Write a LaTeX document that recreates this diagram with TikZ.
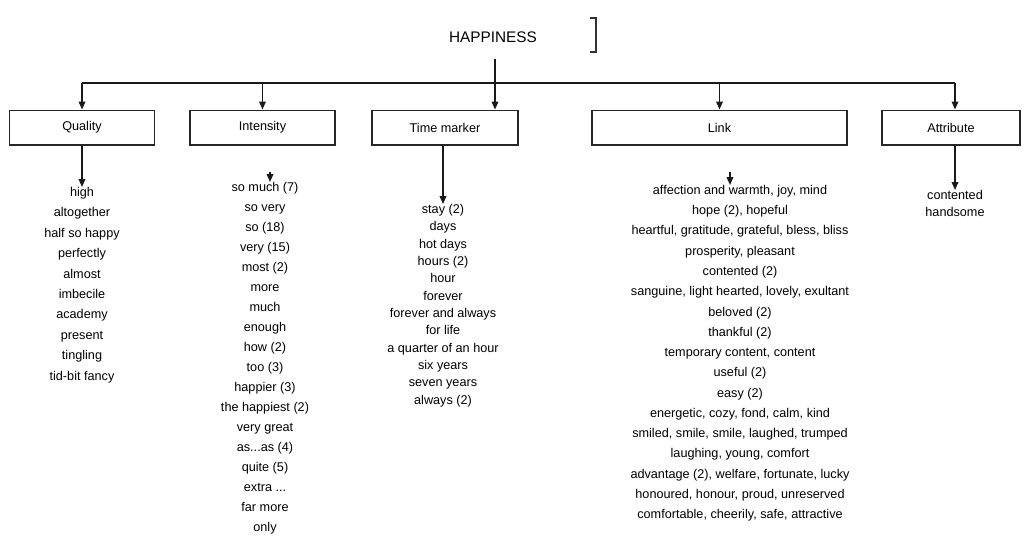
\documentclass[tikz,border=0pt]{standalone}
\usepackage{fontspec}
\setmainfont{Liberation Sans}
\usetikzlibrary{arrows.meta}
\begin{document}
\begin{tikzpicture}[x=0.75pt,y=-0.75pt,
  box/.style={draw=black!85,line width=1pt,minimum height=26pt,inner sep=0pt,font=\fontsize{9.5}{11}\selectfont},
  lbl/.style={font=\fontsize{11.5}{13}\selectfont,inner sep=0pt},
  lst/.style={font=\fontsize{9.5}{15}\selectfont,align=center,inner sep=0pt,anchor=north},
  conn/.style={draw=black!90,line width=1.1pt},
  arr/.style={conn,-{Triangle[length=6pt,width=5pt]}}]
\useasboundingbox (0,0) rectangle (1030,536);
% root
\node[lbl] (root) at (493,37) {HAPPINESS};
\coordinate (rb1) at (590,18);
\coordinate (rb2) at (596,18);
\coordinate (rb3) at (596,52);
\coordinate (rb4) at (590,52);
\draw[line width=0.8pt,black!80] (rb1) -- (rb2) -- (rb3) -- (rb4);
% boxes
\node[box,minimum width=108.75pt] (q) at (82,127.5) {Quality};
\node[box,minimum width=108.75pt] (i) at (262.5,127.5) {Intensity};
\node[box,minimum width=109.5pt] (t) at (445,127.5) {Time marker};
\node[box,minimum width=191.25pt] (l) at (719.5,127.5) {Link};
\node[box,minimum width=103.5pt] (a) at (951,127.5) {Attribute};
% bus
\coordinate (j) at (495,83);
\coordinate (bq) at (82,83);
\coordinate (ba) at (955,83);
\draw[conn,shorten <=12pt] (j |- root.south) -- (j);
\draw[conn] (bq) -- (ba);
\draw[arr] (bq) -- (q.north);
\draw[arr] (i.north |- j) -- (i.north);
\draw[arr] (j) -- (j |- t.north);
\draw[arr] (l.north |- j) -- (l.north);
\draw[arr] (ba) -- (ba |- a.north);
% lists
\node[lst,font=\fontsize{9.5}{15.3}\selectfont] (ql) at (82,187) {high\\altogether\\half so happy\\perfectly\\almost\\imbecile\\academy\\present\\tingling\\tid-bit fancy};
\node[lst] (il) at (265,182) {so much (7)\\so very\\so (18)\\very (15)\\most (2)\\more\\much\\enough\\how (2)\\too (3)\\happier (3)\\the happiest (2)\\very great\\as...as (4)\\quite (5)\\extra ...\\far more\\only};
\node[lst,font=\fontsize{9.5}{13}\selectfont] (tl) at (443,204) {stay (2)\\days\\hot days\\hours (2)\\hour\\forever\\forever and always\\for life\\a quarter of an hour\\six years\\seven years\\always (2)};
\node[lst,font=\fontsize{9.5}{15.2}\selectfont] (ll) at (740,185) {affection and warmth, joy, mind\\hope (2), hopeful\\heartful, gratitude, grateful, bless, bliss\\prosperity, pleasant\\contented (2)\\sanguine, light hearted, lovely, exultant\\beloved (2)\\thankful (2)\\temporary content, content\\useful (2)\\easy (2)\\energetic, cozy, fond, calm, kind\\smiled, smile, smile, laughed, trumped\\laughing, young, comfort\\advantage (2), welfare, fortunate, lucky\\honoured, honour, proud, unreserved\\comfortable, cheerily, safe, attractive};
\node[lst,font=\fontsize{9.5}{13}\selectfont] (al) at (955,190) {contented\\handsome};
% down arrows
\coordinate (is) at (270,172);
\coordinate (ls) at (730,172);
\draw[arr] (q.south) -- (ql.north);
\draw[arr] (is) -- (is |- il.north);
\draw[arr] (t.south -| tl.north) -- (tl.north);
\draw[arr] (ls) -- (ls |- ll.north);
\draw[arr] (ba |- a.south) -- (ba |- al.north);
\end{tikzpicture}
\end{document}
